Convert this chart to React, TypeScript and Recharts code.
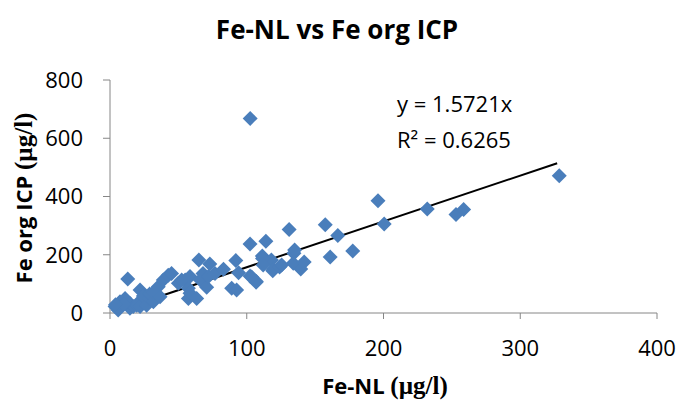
import {
  ReferenceLine,
  Scatter,
  ScatterChart,
  XAxis,
  YAxis,
} from "recharts";

// Fe-NL (µg/l) vs Fe org ICP (µg/l)
const feNL = [
  3.7, 6, 7.3, 11, 14.6, 14.6, 17, 19.5, 21.4, 22, 22, 24.4, 26.8, 29, 29,
  31.7, 31.7, 35.3, 36.6, 39, 42.6, 45, 13, 10, 4,
  50, 52.4, 55, 57.3, 57.3, 58.5, 58.5, 63.4, 65, 66, 68, 70.7, 72, 73, 76.8,
  83, 89, 92, 92.6, 94, 102.4, 107, 102.4, 111.4, 114, 118, 119.5, 119, 124,
  125.5, 131, 134, 134.5, 135, 139.5, 142, 111.5, 112, 106.8, 103.6,
  157.4, 166.6, 177.5, 161, 196, 200.5, 232, 253, 258.6, 328.5, 102.5,
];
const feOrgICP = [
  22, 10, 39, 50, 16, 33, 22, 27, 39, 22, 79, 58, 27, 50, 65,
  39, 70, 90, 56, 113, 130, 136, 117, 30, 28,
  102, 113, 113, 85, 50, 125, 68, 50, 182, 113, 136, 88, 125, 168, 136,
  150, 85, 180, 79, 138, 127, 108, 237, 196, 246, 182, 150, 145, 158,
  165, 287, 171, 205, 216, 151, 175, 187, 165, 106, 124,
  303, 266, 213, 192, 385, 306, 357, 338, 355, 471, 668,
];
const xTicks = [0, 100, 200, 300, 400];
const yTicks = [0, 200, 400, 600, 800];
const SLOPE = 1.5721;
const R2 = 0.6265;
const trendRange = [5, 327];

const points = feNL.map((x, i) => ({ x, y: feOrgICP[i] }));

const BLUE = "#4a7ebb";
const AXIS = "#868686";
const FONT = "'Open Sans', sans-serif";
const SERIF = "'Liberation Serif', serif";

function Diamond(props: any) {
  const { cx, cy } = props;
  const r = 7.5;
  return (
    <polygon
      points={`${cx},${cy - r} ${cx + r},${cy} ${cx},${cy + r} ${cx - r},${cy}`}
      fill={BLUE}
    />
  );
}

export default function App() {
  const tick = { fontSize: 22, fill: "#000", fontFamily: FONT };
  return (
    <div
      style={{
        position: "absolute",
        left: 0,
        top: 0,
        width: 677,
        height: 401,
        background: "#fff",
        fontFamily: FONT,
      }}
    >
      <div
        style={{
          position: "absolute",
          left: 337,
          top: 29,
          transform: "translate(-50%, -50%)",
          fontSize: 26,
          fontWeight: 700,
          whiteSpace: "nowrap",
        }}
      >
        Fe-NL vs Fe org ICP
      </div>
      <ScatterChart
        width={677}
        height={401}
        margin={{ top: 80, right: 20, bottom: 0, left: 0 }}
      >
        <XAxis
          type="number"
          dataKey="x"
          domain={[0, 400]}
          ticks={xTicks}
          height={88}
          tick={tick}
          tickSize={6}
          tickMargin={21}
          axisLine={{ stroke: AXIS }}
          tickLine={{ stroke: AXIS }}
        />
        <YAxis
          type="number"
          dataKey="y"
          domain={[0, 800]}
          ticks={yTicks}
          width={110}
          tick={tick}
          tickSize={7}
          tickMargin={20}
          axisLine={{ stroke: AXIS }}
          tickLine={{ stroke: AXIS }}
        />
        <Scatter data={points} shape={Diamond} isAnimationActive={false} />
        <ReferenceLine
          segment={[
            { x: trendRange[0], y: trendRange[0] * SLOPE },
            { x: trendRange[1], y: trendRange[1] * SLOPE },
          ]}
          stroke="#000"
          strokeWidth={2}
        />
      </ScatterChart>
      <div
        style={{
          position: "absolute",
          left: 397,
          top: 88,
          fontSize: 22,
          whiteSpace: "nowrap",
        }}
      >
        <div style={{ height: 30, lineHeight: "30px" }}>y = {SLOPE}x</div>
        <div style={{ height: 30, lineHeight: "30px", marginTop: 6 }}>
          R² = {R2}
        </div>
      </div>
      <div
        style={{
          position: "absolute",
          left: 385,
          top: 385,
          transform: "translate(-50%, -50%)",
          fontSize: 22,
          fontWeight: 700,
          whiteSpace: "nowrap",
        }}
      >
        Fe-NL <span style={{ fontFamily: SERIF, fontSize: 25 }}>(µg/l)</span>
      </div>
      <div
        style={{
          position: "absolute",
          left: 23,
          top: 198,
          transform: "translate(-50%, -50%) rotate(-90deg)",
          fontSize: 22,
          fontWeight: 700,
          whiteSpace: "nowrap",
        }}
      >
        Fe org ICP <span style={{ fontFamily: SERIF, fontSize: 25 }}>(µg/l)</span>
      </div>
    </div>
  );
}
